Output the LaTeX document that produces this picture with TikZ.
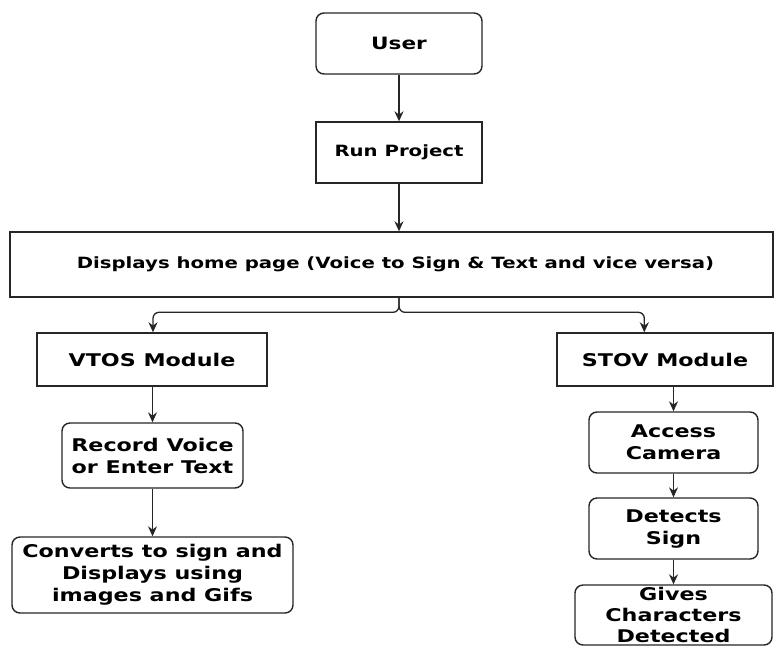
\documentclass[tikz,border=0pt]{standalone}
\usepackage{fontspec}
\setmainfont{DejaVu Sans}[FakeStretch=1.27]
\usetikzlibrary{arrows.meta,calc}
\tikzset{
  box/.style={draw=black!85, line width=1.4pt, fill=white, align=center, inner sep=0pt, font=\bfseries},
  rbox/.style={box, rounded corners=8pt},
  top/.style={font=\fontsize{15.5}{18}\selectfont\bfseries},
  low/.style={font=\fontsize{17.5}{22}\selectfont\bfseries},
  arr/.style={draw=black!85, line width=1.3pt, -{Stealth[length=10pt,width=9pt]}},
}
\begin{document}
\begin{tikzpicture}[x=1pt,y=-1pt]
\useasboundingbox (0,0) rectangle (776,646);
\node[rbox,font=\fontsize{17}{20}\selectfont\bfseries,minimum width=166pt,minimum height=61pt] (user) at (399,43.5) {User};
\node[box,top,minimum width=166pt,minimum height=61pt] (run) at (399,152.5) {Run Project};
\node[box,top,minimum width=763pt,minimum height=65pt] (disp) at (391.5,264.5) {\hspace*{8pt}Displays home page (Voice to Sign \& Text and vice versa)};
\node[box,low,minimum width=230pt,minimum height=53pt] (vtos) at (152,359.5) {VTOS Module};
\node[rbox,low,minimum width=181pt,minimum height=65pt] (rec) at (152.5,455.5) {Record Voice\\or Enter Text};
\node[rbox,low,minimum width=281pt,minimum height=76pt] (conv) at (152.5,575) {Converts to sign and\\Displays using\\images and Gifs};
\node[box,low,minimum width=216pt,minimum height=53pt] (stov) at (665,359.5) {STOV Module};
\node[rbox,low,minimum width=169pt,minimum height=61pt] (acc) at (673.5,442.5) {Access\\Camera};
\node[rbox,low,minimum width=169pt,minimum height=61pt] (det) at (673.5,528.5) {Detects\\Sign};
\node[rbox,font=\fontsize{17.5}{21}\selectfont\bfseries,minimum width=197pt,minimum height=60pt] (giv) at (673.5,615) {Gives\\Characters\\Detected};
\draw[arr] (user) -- (run);
\draw[arr] (run.south) -- (run.south |- disp.north);
\coordinate (vin) at ($(vtos.north)+(1,0)$);
\coordinate (sin) at ($(stov.north west)+(88,0)$);
\draw[arr, rounded corners=6pt] (disp.south -| run.south) |- ($(vin)+(0,-20)$) -- (vin);
\draw[arr, rounded corners=6pt] (disp.south -| run.south) |- ($(sin)+(0,-20)$) -- (sin);
\draw[arr] (vtos.south -| rec.north) -- (rec.north);
\draw[arr] (rec) -- (conv);
\draw[arr] (acc.north |- stov.south) -- (acc.north);
\draw[arr] (acc) -- (det);
\draw[arr] (det) -- (giv);
\end{tikzpicture}
\end{document}
